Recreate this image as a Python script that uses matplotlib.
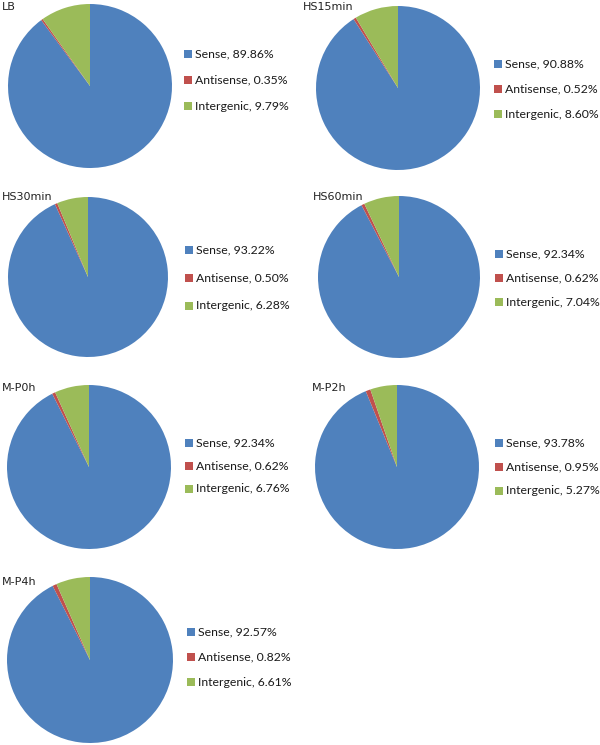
import matplotlib
matplotlib.use("Agg")
import matplotlib.pyplot as plt
from matplotlib.patches import Rectangle

samples = ["LB", "HS15min", "HS30min", "HS60min", "M-P0h", "M-P2h", "M-P4h"]
categories = ["Sense", "Antisense", "Intergenic"]
sense = [89.86, 90.88, 93.22, 92.34, 92.34, 93.78, 92.57]
antisense = [0.35, 0.52, 0.50, 0.62, 0.62, 0.95, 0.82]
intergenic = [9.79, 8.60, 6.28, 7.04, 6.76, 5.27, 6.61]

colors = ["#4F81BD", "#C0504D", "#9BBB59"]

W, H = 600, 745
fig = plt.figure(figsize=(W / 100, H / 100), dpi=100)
fig.patch.set_facecolor("white")

# layout in pixels: (cx, cy, r, title_x, title_y, legend_text_x, legend_row_ys)
layout = [
    (90, 86, 82, 2, 7, 195, (54, 80, 106)),
    (398, 88, 82, 303, 7, 505, (64, 89, 114)),
    (88, 277, 80, 2, 197, 196, (250, 278, 306)),
    (399, 277, 81, 313, 197, 506, (254, 278, 302)),
    (89, 467, 82, 2, 388, 196, (443, 466, 489)),
    (397, 467, 82, 312, 388, 506, (443, 467, 491)),
    (90, 660, 83, 2, 582, 198, (632, 657, 682)),
]

fs = 8.8
sq = 8
for i, name in enumerate(samples):
    cx, cy, r, tx, ty, lx, lys = layout[i]
    ax = fig.add_axes([(cx - r) / W, 1 - (cy + r) / H, 2 * r / W, 2 * r / H])
    vals = [sense[i], antisense[i], intergenic[i]]
    wedges, _ = ax.pie(vals, colors=colors, startangle=90, counterclock=False,
                       radius=1.0, wedgeprops=dict(linewidth=0))
    ax.set_xlim(-1, 1)
    ax.set_ylim(-1, 1)
    ax.set_aspect("equal")
    ax.axis("off")
    fig.text(tx / W, 1 - ty / H, name, fontsize=8, va="center", ha="left",
             family="DejaVu Sans", color="#222222")
    for c, v, col, y in zip(categories, vals, colors, lys):
        fig.add_artist(Rectangle(((lx - 11) / W, 1 - (y + sq / 2) / H), sq / W, sq / H,
                                 transform=fig.transFigure, facecolor=col,
                                 edgecolor="none"))
        fig.text(lx / W, 1 - y / H, f"{c}, {v:.2f}%", fontsize=fs, va="center",
                 ha="left", family="Lato", color="#1a1a1a")

fig.savefig("out.png", dpi=100, facecolor="white")
